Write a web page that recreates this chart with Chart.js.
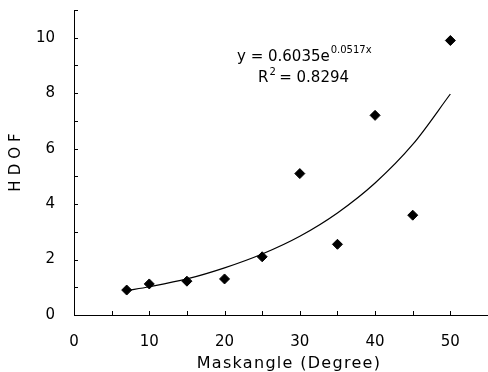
<!DOCTYPE html>
<html>
<head>
<meta charset="utf-8">
<script src="https://cdn.jsdelivr.net/npm/chart.js@4"></script>
<style>
  html, body { margin: 0; padding: 0; background: #fff; }
  #wrap { width: 488px; height: 372px; }
</style>
</head>
<body>
<div id="wrap"><canvas id="hdof-chart" width="488" height="372"></canvas></div>
<script>
// Dados
const maskAngles = [7, 10, 15, 20, 25, 30, 35, 40, 45, 50];
const hdofValues = [0.9, 1.12, 1.22, 1.3, 2.1, 5.1, 2.55, 7.2, 3.6, 9.9];

// Linha de tendência (exponencial)
const trendAngles = [7, 10, 15, 20, 25, 30, 35, 40, 45, 50];
const trendValues = [0.88, 1.02, 1.3, 1.7, 2.2, 2.84, 3.68, 4.76, 6.15, 7.97];

const xTitle = "Maskangle (Degree)";
const yTitle = "HDOF";
const equationText = "y = 0.6035e";
const exponentText = "0.0517x";
const r2Text = " = 0.8294";

const FONT = "'DejaVu Sans', Arial, sans-serif";

// ticks para dentro, títulos dos eixos e texto da equação
const innerTicks = {
  id: "innerTicks",
  afterDraw(chart) {
    const { ctx, scales } = chart;
    const x = scales.x;
    const y = scales.y;
    ctx.save();
    ctx.strokeStyle = "#000";
    ctx.lineWidth = 1;
    ctx.beginPath();
    x.ticks.forEach((t) => {
      const px = Math.round(x.getPixelForValue(t.value)) + 0.5;
      ctx.moveTo(px, y.bottom);
      ctx.lineTo(px, y.bottom - 4);
    });
    y.ticks.forEach((t) => {
      const py = Math.round(y.getPixelForValue(t.value)) + 0.5;
      ctx.moveTo(x.left, py);
      ctx.lineTo(x.left + 4, py);
    });
    ctx.stroke();

    ctx.fillStyle = "#000";

    // títulos dos eixos (com espaçamento entre letras)
    ctx.font = "16px " + FONT;
    ctx.textAlign = "center";
    ctx.textBaseline = "alphabetic";
    ctx.letterSpacing = "1.3px";
    ctx.fillText(xTitle, 289, 368);

    ctx.save();
    ctx.translate(16, 162);
    ctx.rotate(-Math.PI / 2);
    ctx.textBaseline = "middle";
    ctx.font = "15px " + FONT;
    ctx.letterSpacing = "5px";
    ctx.fillText(yTitle, 2, 0);
    ctx.restore();

    // equação
    ctx.letterSpacing = "0px";
    ctx.textAlign = "left";
    ctx.textBaseline = "alphabetic";
    ctx.font = "15px " + FONT;
    const ex = 237;
    const ey = 61;
    ctx.fillText(equationText, ex, ey);
    const w = ctx.measureText(equationText).width;
    ctx.font = "10px " + FONT;
    ctx.fillText(exponentText, ex + w + 1, ey - 8);

    ctx.font = "15px " + FONT;
    const rx = 258;
    const ry = 82;
    ctx.fillText("R", rx, ry);
    const rw = ctx.measureText("R").width;
    ctx.font = "10px " + FONT;
    ctx.fillText("2", rx + rw + 1, ry - 7);
    ctx.font = "15px " + FONT;
    ctx.fillText(r2Text, rx + rw + 6, ry);
    ctx.restore();
  },
};

const ctx = document.getElementById("hdof-chart");

new Chart(ctx, {
  type: "scatter",
  plugins: [innerTicks],
  data: {
    datasets: [
      {
        label: "HDOF",
        data: maskAngles.map((a, i) => ({ x: a, y: hdofValues[i] })),
        backgroundColor: "#000",
        borderColor: "#000",
        pointStyle: "rectRot",
        pointRadius: 5,
        pointHoverRadius: 5,
      },
      {
        label: "Tendência",
        data: trendAngles.map((a, i) => ({ x: a, y: trendValues[i] })),
        showLine: true,
        borderColor: "#000",
        borderWidth: 1.2,
        pointRadius: 0,
        cubicInterpolationMode: "monotone",
        fill: false,
      },
    ],
  },
  options: {
    responsive: false,
    animation: false,
    events: [],
    layout: { autoPadding: false, padding: { top: 10, right: 0, left: 0, bottom: 0 } },
    plugins: { legend: { display: false }, tooltip: { enabled: false } },
    scales: {
      x: {
        type: "linear",
        min: 0,
        max: 55,
        afterFit: (s) => {
          s.height = 57;
          s.paddingLeft = 0;
          s.paddingRight = 0;
        },
        grid: { display: false, drawTicks: false },
        border: { display: true, color: "#000", width: 1 },
        ticks: {
          stepSize: 5,
          padding: 18,
          color: "#000",
          font: { size: 15, family: FONT },
          callback: (v) => (v % 10 === 0 && v <= 50 ? v : ""),
        },
        title: { display: false },
      },
      y: {
        min: 0,
        max: 11,
        afterFit: (s) => {
          s.width = 74;
          s.paddingTop = 0;
          s.paddingBottom = 0;
        },
        grid: { display: false, drawTicks: false },
        border: { display: true, color: "#000", width: 1 },
        ticks: {
          stepSize: 1,
          padding: 19,
          color: "#000",
          font: { size: 15, family: FONT },
          callback: (v) => (v % 2 === 0 && v <= 10 ? v : ""),
        },
        title: { display: false },
      },
    },
  },
});
</script>
</body>
</html>
